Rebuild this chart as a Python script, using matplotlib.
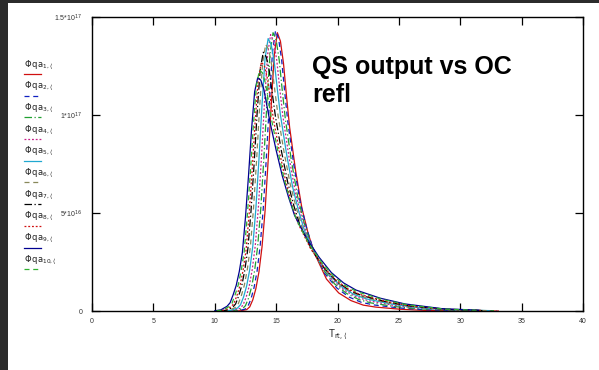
import matplotlib

matplotlib.use("Agg")
import matplotlib.pyplot as plt
from matplotlib.lines import Line2D
from matplotlib.patches import Rectangle

plt.rcParams["font.family"] = ["Liberation Sans", "DejaVu Sans"]

# Output flux curves, values in units of 1e17
x1 = [11.6, 12.1, 12.6, 12.85, 13.1, 13.35, 13.6, 13.85, 14.1, 14.35, 14.6, 14.85, 15.1, 15.35, 15.6,
      15.85, 16.1, 16.6, 17.1, 17.6, 18.1, 19.1, 20.1, 21.1, 22.1, 23.1, 25.1, 27.1, 30.1, 33.1]
y1 = [0, 0.001, 0.007, 0.021, 0.057, 0.114, 0.199, 0.327, 0.511, 0.767, 1.051, 1.306, 1.42, 1.377, 1.264,
      1.093, 0.937, 0.71, 0.525, 0.398, 0.298, 0.163, 0.092, 0.053, 0.030, 0.020, 0.009, 0.003, 0, 0]
x2 = [11.45, 11.95, 12.45, 12.7, 12.95, 13.2, 13.45, 13.7, 13.95, 14.2, 14.45, 14.7, 14.95, 15.2, 15.45,
      15.7, 15.95, 16.45, 16.95, 17.45, 17.95, 18.95, 19.95, 20.95, 21.95, 22.95, 24.95, 26.95, 29.95, 32.95]
y2 = [0, 0.002, 0.009, 0.024, 0.061, 0.119, 0.204, 0.332, 0.521, 0.778, 1.064, 1.318, 1.43, 1.390, 1.281,
      1.117, 0.965, 0.742, 0.559, 0.430, 0.329, 0.192, 0.117, 0.071, 0.044, 0.031, 0.016, 0.007, 0.001, 0]
x3 = [11.25, 11.75, 12.25, 12.5, 12.75, 13.0, 13.25, 13.5, 13.75, 14.0, 14.25, 14.5, 14.75, 15.0, 15.25,
      15.5, 15.75, 16.25, 16.75, 17.25, 17.75, 18.75, 19.75, 20.75, 21.75, 22.75, 24.75, 26.75, 29.75, 32.75]
y3 = [0, 0.003, 0.011, 0.027, 0.065, 0.122, 0.207, 0.332, 0.523, 0.778, 1.062, 1.312, 1.42, 1.383, 1.281,
      1.125, 0.980, 0.764, 0.585, 0.457, 0.355, 0.219, 0.139, 0.089, 0.058, 0.041, 0.022, 0.011, 0.003, 0.001]
x4 = [11.05, 11.55, 12.05, 12.3, 12.55, 12.8, 13.05, 13.3, 13.55, 13.8, 14.05, 14.3, 14.55, 14.8, 15.05,
      15.3, 15.55, 16.05, 16.55, 17.05, 17.55, 18.55, 19.55, 20.55, 21.55, 22.55, 24.55, 26.55, 29.55, 32.55]
y4 = [0, 0.003, 0.013, 0.030, 0.069, 0.125, 0.210, 0.333, 0.525, 0.778, 1.060, 1.306, 1.41, 1.376, 1.280,
      1.132, 0.994, 0.785, 0.611, 0.484, 0.381, 0.245, 0.161, 0.106, 0.071, 0.052, 0.029, 0.015, 0.004, 0.001]
x5 = [10.85, 11.35, 11.85, 12.1, 12.35, 12.6, 12.85, 13.1, 13.35, 13.6, 13.85, 14.1, 14.35, 14.6, 14.85,
      15.1, 15.35, 15.85, 16.35, 16.85, 17.35, 18.35, 19.35, 20.35, 21.35, 22.35, 24.35, 26.35, 29.35, 32.35]
y5 = [0.001, 0.004, 0.015, 0.032, 0.072, 0.128, 0.211, 0.331, 0.523, 0.773, 1.051, 1.290, 1.39, 1.359, 1.270,
      1.131, 1.001, 0.801, 0.631, 0.506, 0.403, 0.268, 0.182, 0.123, 0.084, 0.062, 0.036, 0.018, 0.006, 0.002]
x6 = [10.65, 11.15, 11.65, 11.9, 12.15, 12.4, 12.65, 12.9, 13.15, 13.4, 13.65, 13.9, 14.15, 14.4, 14.65,
      14.9, 15.15, 15.65, 16.15, 16.65, 17.15, 18.15, 19.15, 20.15, 21.15, 22.15, 24.15, 26.15, 29.15, 32.15]
y6 = [0.001, 0.004, 0.017, 0.034, 0.075, 0.129, 0.211, 0.326, 0.517, 0.762, 1.034, 1.265, 1.36, 1.333, 1.251,
      1.122, 1.0, 0.809, 0.646, 0.524, 0.422, 0.289, 0.201, 0.137, 0.096, 0.071, 0.041, 0.022, 0.007, 0.002]
x7 = [10.45, 10.95, 11.45, 11.7, 11.95, 12.2, 12.45, 12.7, 12.95, 13.2, 13.45, 13.7, 13.95, 14.2, 14.45,
      14.7, 14.95, 15.45, 15.95, 16.45, 16.95, 17.95, 18.95, 19.95, 20.95, 21.95, 23.95, 25.95, 28.95, 31.95]
y7 = [0.001, 0.004, 0.018, 0.036, 0.077, 0.129, 0.209, 0.319, 0.507, 0.744, 1.008, 1.230, 1.32, 1.296, 1.222,
      1.104, 0.99, 0.810, 0.655, 0.536, 0.436, 0.306, 0.216, 0.150, 0.106, 0.079, 0.047, 0.025, 0.008, 0.002]
x8 = [10.3, 10.8, 11.3, 11.55, 11.8, 12.05, 12.3, 12.55, 12.8, 13.05, 13.3, 13.55, 13.8, 14.05, 14.3,
      14.55, 14.8, 15.3, 15.8, 16.3, 16.8, 17.8, 18.8, 19.8, 20.8, 21.8, 23.8, 25.8, 28.8, 31.8]
y8 = [0.001, 0.005, 0.020, 0.037, 0.077, 0.128, 0.204, 0.310, 0.493, 0.721, 0.975, 1.186, 1.27, 1.250, 1.184,
      1.076, 0.972, 0.804, 0.657, 0.542, 0.445, 0.319, 0.229, 0.161, 0.115, 0.085, 0.051, 0.027, 0.009, 0.003]
x9 = [10.0, 10.5, 11.0, 11.25, 11.5, 11.75, 12.0, 12.25, 12.5, 12.75, 13.0, 13.25, 13.5, 13.75, 14.0,
      14.25, 14.5, 15.0, 15.5, 16.0, 16.5, 17.5, 18.5, 19.5, 20.5, 21.5, 23.5, 25.5, 28.5, 31.5]
y9 = [0.001, 0.006, 0.024, 0.042, 0.083, 0.131, 0.202, 0.298, 0.476, 0.690, 0.928, 1.119, 1.19, 1.178, 1.131,
      1.047, 0.964, 0.821, 0.690, 0.583, 0.488, 0.369, 0.274, 0.196, 0.143, 0.107, 0.065, 0.036, 0.012, 0.004]
x10 = [10.15, 10.65, 11.15, 11.4, 11.65, 11.9, 12.15, 12.4, 12.65, 12.9, 13.15, 13.4, 13.65, 13.9, 14.15,
       14.4, 14.65, 15.15, 15.65, 16.15, 16.65, 17.65, 18.65, 19.65, 20.65, 21.65, 23.65, 25.65, 28.65, 31.65]
y10 = [0.001, 0.005, 0.022, 0.039, 0.081, 0.130, 0.204, 0.304, 0.485, 0.706, 0.952, 1.153, 1.23, 1.214, 1.157,
       1.062, 0.969, 0.814, 0.675, 0.564, 0.467, 0.345, 0.253, 0.179, 0.129, 0.097, 0.059, 0.032, 0.010, 0.003]

xs = [x1, x2, x3, x4, x5, x6, x7, x8, x9, x10]
ys = [y1, y2, y3, y4, y5, y6, y7, y8, y9, y10]
labels = [r"$\Phi\,\mathrm{qa}_{%d,\langle}$" % k for k in range(1, 11)]
colors = ["#d01010", "#1020c0", "#20a030", "#c8208a", "#20a8d0",
          "#88885a", "#000000", "#d01010", "#000090", "#30b030"]
styles = ["-", (0, (4, 3)), (0, (6, 2, 1, 2)), (0, (1.5, 1.5)), "-",
          (0, (4, 3)), (0, (6, 2, 1, 2)), (0, (1.5, 1.5)), "-", (0, (4, 3))]

xticks = [0, 5, 10, 15, 20, 25, 30, 35, 40]
yticks = [0, 0.5, 1.0, 1.5]
ytick_labels = ["0", "5*10$^{16}$", "1*10$^{17}$", "1.5*10$^{17}$"]

fig = plt.figure(figsize=(5.99, 3.70), dpi=100)
ax = fig.add_axes([92 / 599, 1 - 311 / 370, 491 / 599, 294 / 370])

for x, y, c, ls in zip(xs, ys, colors, styles):
    ax.plot(x, y, color=c, linestyle=ls, linewidth=0.9)

ax.set_xlim(0, 40)
ax.set_ylim(0, 1.5)
ax.set_xticks(xticks)
ax.set_xticklabels([str(v) for v in xticks])
ax.set_yticks(yticks)
ax.set_yticklabels(ytick_labels)
ax.tick_params(axis="both", direction="in", top=True, right=True, length=6,
               width=0.9, labelsize=5, labelcolor="#333333")
ax.tick_params(axis="x", pad=5)
ax.tick_params(axis="y", pad=7)
for sp in ax.spines.values():
    sp.set_linewidth(1.0)
ax.set_xlabel(r"T$_{\mathrm{rt},\langle}$", fontsize=7, labelpad=2, color="#222222")

# left-hand legend, drawn like the original worksheet
for i, (lab, c, ls) in enumerate(zip(labels, colors, styles)):
    ty = 1 - (65 + i * 21.7) / 370
    fig.text(24 / 599, ty, lab, fontsize=6, color="#222222", va="center", ha="left")
    ly = ty - 9 / 370
    fig.add_artist(Line2D([24 / 599, 41 / 599], [ly, ly], color=c, linestyle=ls,
                          linewidth=0.9, transform=fig.transFigure))

fig.text(312 / 599, 1 - 55 / 370, "QS output vs OC\nrefl", fontsize=18,
         fontweight="bold", ha="left", va="top", linespacing=1.2)

# dark window frame at the left and top edges
fig.add_artist(Rectangle((0, 0), 8 / 599, 1, transform=fig.transFigure,
                         facecolor="#2b2b2b", edgecolor="none"))
fig.add_artist(Rectangle((0, 1 - 3 / 370), 1, 3 / 370, transform=fig.transFigure,
                         facecolor="#2b2b2b", edgecolor="none"))

fig.savefig("out.png", dpi=100)
plt.close(fig)
